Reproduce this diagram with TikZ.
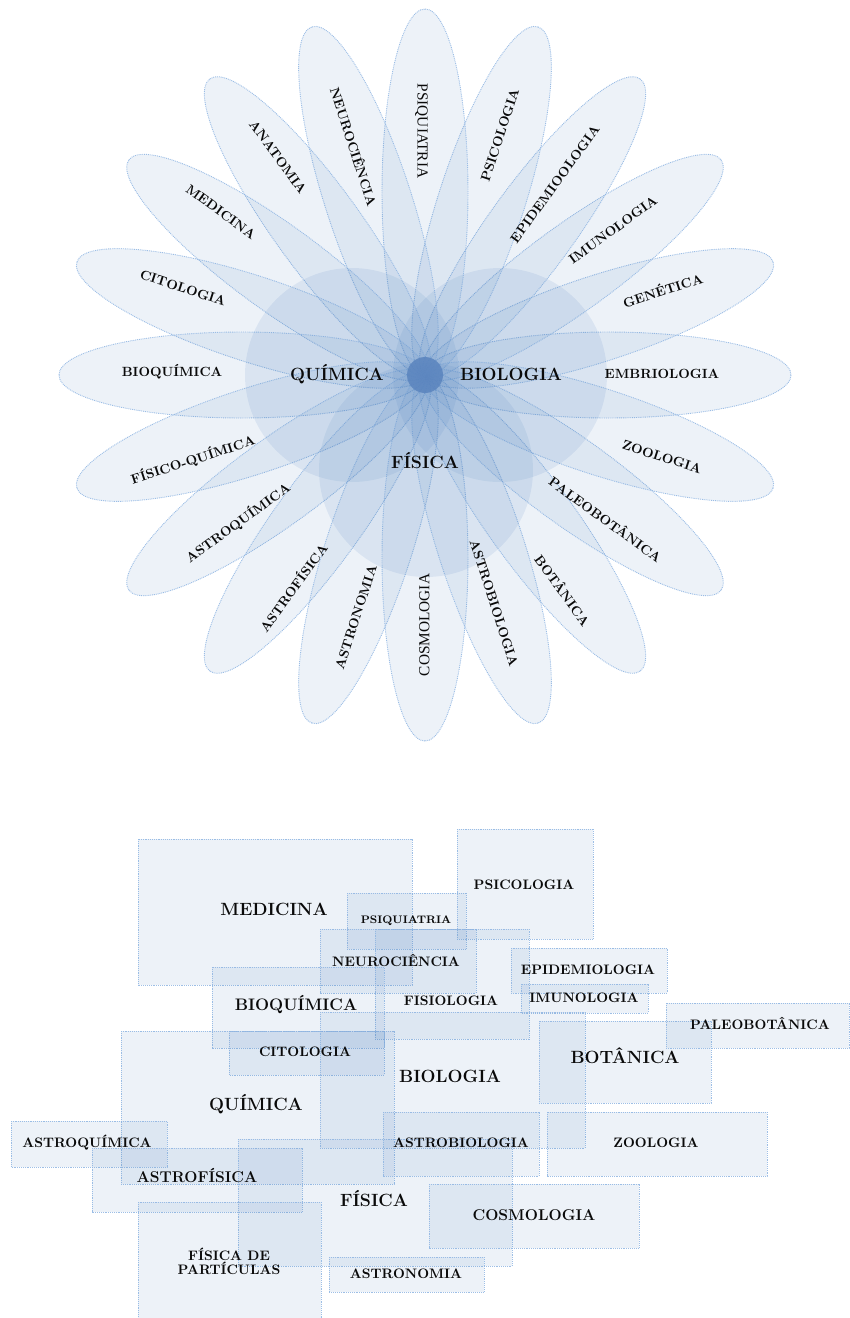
\documentclass[tikz,border=0pt]{standalone}
\usepackage{fontspec}
\newfontfamily\timesf{Liberation Serif}
\definecolor{petalblue}{RGB}{79,129,189}
\definecolor{edgeblue}{RGB}{141,180,226}
\definecolor{dotblue}{RGB}{90,132,190}
\definecolor{txt}{RGB}{10,10,10}
\begin{document}
\begin{tikzpicture}[x=0.75pt,y=-0.75pt,
  petal/.style={fill=petalblue,fill opacity=0.1,draw=edgeblue,draw opacity=0.85,line width=0.7pt,dash pattern=on 0.7pt off 0.7pt},
  bigcirc/.style={fill=petalblue,fill opacity=0.12},
  boxst/.style={fill=petalblue,fill opacity=0.1,draw=edgeblue,draw opacity=0.85,line width=0.7pt,dash pattern=on 0.7pt off 0.7pt},
  flab/.style={text=txt,inner sep=0pt,font=\fontsize{10}{11}\selectfont\bfseries,text height=0.68em,text depth=0pt},
  flabreg/.style={text=txt,inner sep=0pt,font=\fontsize{11.5}{13}\selectfont\timesf,text height=0.66em,text depth=0pt},
  biglab/.style={text=txt,inner sep=0pt,font=\fontsize{13.3}{15}\selectfont\bfseries,text height=0.68em,text depth=0pt},
  midlab/.style={text=txt,inner sep=0pt,font=\fontsize{10.3}{12}\selectfont\bfseries,text height=0.68em,text depth=0pt},
  twolab/.style={text=txt,inner sep=0pt,font=\fontsize{10.3}{12}\selectfont\bfseries,align=center},
  lglab/.style={text=txt,inner sep=0pt,font=\fontsize{11.7}{13}\selectfont\bfseries,text height=0.68em,text depth=0pt},
  smlab/.style={text=txt,inner sep=0pt,font=\fontsize{8.2}{10}\selectfont\bfseries,text height=0.68em,text depth=0pt}
]
\useasboundingbox (0,0) rectangle (850,1318);

% ---------- flower ----------
\foreach \a in {0,18,...,342}{
  \begin{scope}[shift={(425,375)},rotate=\a]
    \path[petal] (183,0) ellipse [x radius=183,y radius=43];
  \end{scope}
}
\fill[bigcirc] (352,375) circle [radius=107];
\fill[bigcirc] (500,375) circle [radius=107];
\fill[bigcirc] (426,470) circle [radius=107];
\fill[dotblue,fill opacity=0.85] (425,375) circle [radius=18];

\foreach \x/\y/\r/\t [count=\i] in {
  662/374/0/EMBRIOLOGIA, 663/291/18/GENÉTICA, 613/230/36/IMUNOLOGIA,
  555/184/54/EPIDEMIOOLOGIA, 500/135/72/PSICOLOGIA,
  353/147/-72/NEUROCIÊNCIA, 278/157/-54/ANATOMIA, 221/212/-36/MEDICINA,
  183/288/-18/CITOLOGIA, 172/372/0/BIOQUÍMICA, 193/460/18/FÍSICO-QUÍMICA,
  238/523/36/ASTROQUÍMICA, 294/588/54/ASTROFÍSICA, 356/617/72/ASTRONOMIA,
  494/603/-72/ASTROBIOLOGIA, 562/591/-54/BOTÂNICA, 605/520/-36/PALEOBOTÂNICA,
  662/457/-18/ZOOLOGIA}{
  \node[flab,rotate=\r] (fl\i) at (\x,\y) {\t};
}
\node[flabreg,rotate=-90] (flpsiq) at (422,131) {PSIQUIATRIA};
\node[flabreg,rotate=90] (flcosmo) at (425,625) {COSMOLOGIA};

\node[biglab] (cq) at (337,376) {QUÍMICA};
\node[biglab] (cb) at (511,376) {BIOLOGIA};
\node[biglab] (cf) at (425,464) {FÍSICA};

% ---------- boxes ----------
\foreach \xa/\ya/\xb/\yb in {
  138/839/412/985,
  347/893/466/949,
  457/829/593/939,
  320/929/476/993,
  375/929/529/1039,
  511/948/667/993,
  521/984/648/1013,
  212/967/384/1048,
  229/1031/384/1075,
  121/1031/394/1184,
  320/1012/585/1148,
  539/1021/711/1103,
  666/1003/849/1048,
  11/1121/167/1167,
  92/1148/302/1212,
  238/1139/512/1266,
  138/1202/321/1318,
  329/1257/484/1292,
  383/1112/539/1176,
  547/1112/767/1176,
  429/1184/639/1248}
{
  \path[boxst] (\xa,\ya) rectangle (\xb,\yb);
}

\node[biglab] (bmed) at (274,911) {MEDICINA};
\node[smlab] (bpsiq) at (406,919) {PSIQUIATRIA};
\node[midlab] (bpsic) at (524,885) {PSICOLOGIA};
\node[midlab] (bneur) at (396,962) {NEUROCIÊNCIA};
\node[midlab] (bfisio) at (451,1001) {FISIOLOGIA};
\node[midlab] (bepid) at (588,970) {EPIDEMIOLOGIA};
\node[midlab] (bimun) at (584,998) {IMUNOLOGIA};
\node[biglab,font=\fontsize{12.5}{14}\selectfont\bfseries] (bbioq) at (296,1006) {BIOQUÍMICA};
\node[midlab] (bcito) at (305,1052) {CITOLOGIA};
\node[biglab] (bquim) at (256,1106) {QUÍMICA};
\node[biglab] (bbio) at (450,1078) {BIOLOGIA};
\node[biglab] (bbot) at (625,1059) {BOTÂNICA};
\node[midlab] (bpaleo) at (760,1025) {PALEOBOTÂNICA};
\node[midlab] (bastroq) at (87,1143) {ASTROQUÍMICA};
\node[lglab] (bastrof) at (197,1178) {ASTROFÍSICA};
\node[biglab] (bfis) at (374,1202) {FÍSICA};
\node[twolab] (bpart) at (229,1261) {FÍSICA DE\\[-1.5pt]PARTÍCULAS};
\node[midlab] (bastron) at (406,1274) {ASTRONOMIA};
\node[midlab] (bastrob) at (461,1143) {ASTROBIOLOGIA};
\node[midlab] (bzoo) at (656,1143) {ZOOLOGIA};
\node[lglab] (bcosmo) at (534,1216) {COSMOLOGIA};
\end{tikzpicture}
\end{document}
